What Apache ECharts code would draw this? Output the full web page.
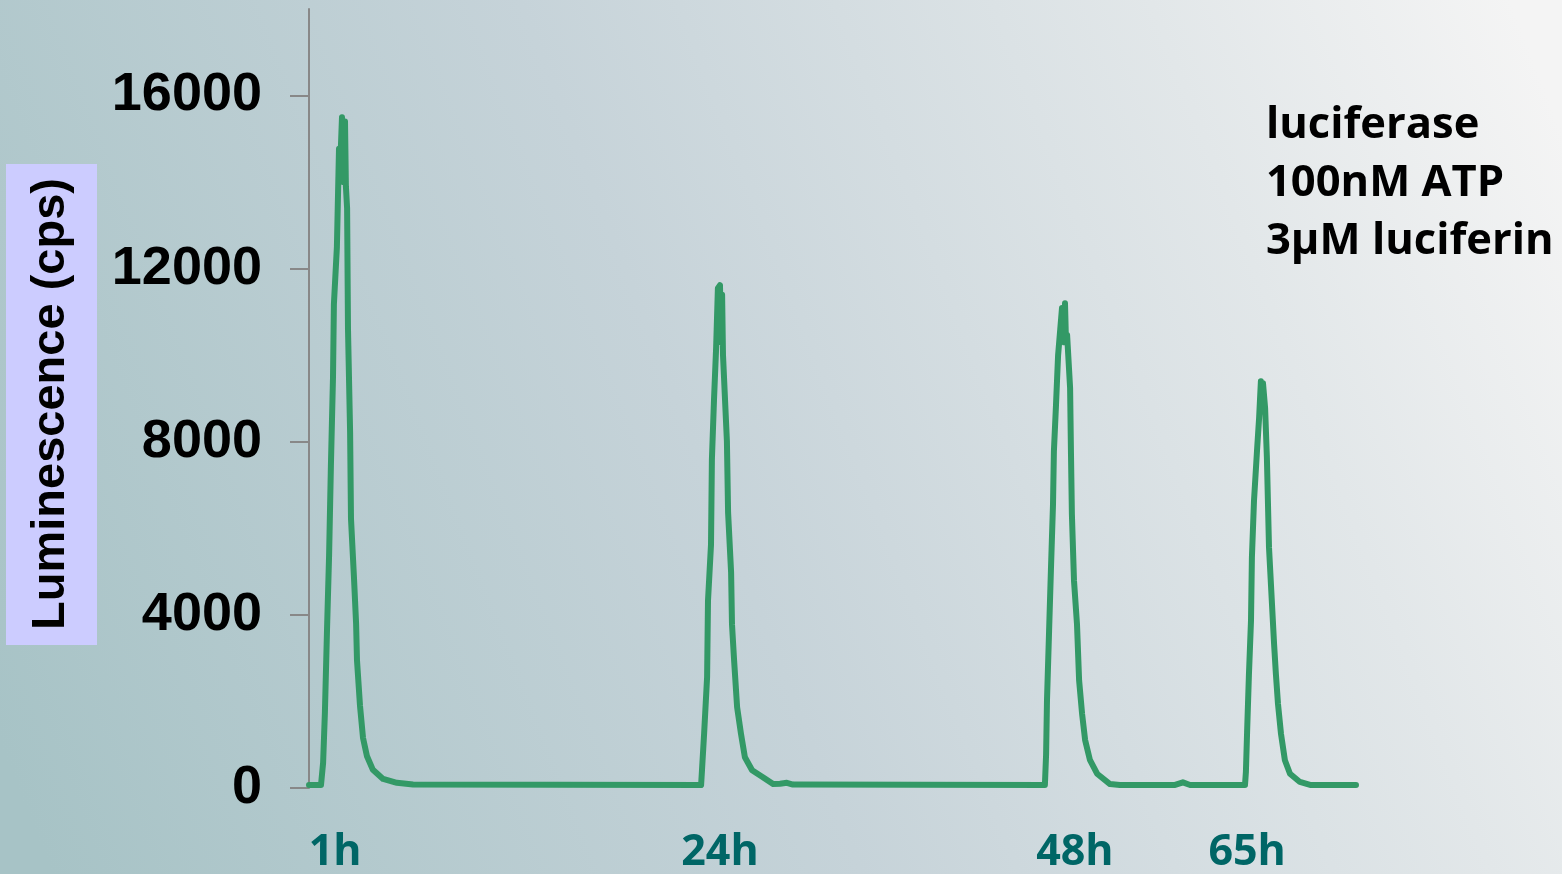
<!DOCTYPE html>
<html>
<head>
<meta charset="utf-8">
<script src="https://cdn.jsdelivr.net/npm/echarts@6/dist/echarts.min.js"></script>
<style>
html,body{margin:0;padding:0;width:1562px;height:874px;overflow:hidden;}
#chart{width:1562px;height:874px;}
</style>
</head>
<body>
<div id="chart"></div>
<script>
// reading index (x) and luminescence in cps (y)
const readings = [
  0, 4, 4.7, 5.3, 6, 6.7, 7.3, 8, 8.3, 9.3, 10, 10.3, 11, 11.5, 12, 12.3, 12.7, 13, 13.7, 14, 15, 15.7, 16, 17, 18, 19.3, 21.3, 24.7, 29.3, 34.7,
  130.7, 131, 131.7, 132.7, 133, 134, 134.3, 135, 135.7, 136.3, 137, 137.3, 137.7, 138, 139.3, 139.7, 140.7, 141, 141.7, 142.7, 144, 145.3, 147.7, 151.3, 154.7, 157, 159.3, 161.3,
  245.3, 245.7, 246, 246.7, 247.3, 248, 248.3, 249, 249.7, 251, 251.7, 252, 252.3, 252.7, 253.7, 254, 254.3, 255, 256, 256.7, 257.7, 258.7, 260.3, 262.7, 267, 270.3,
  288.7, 291.3, 293.7,
  312, 312.3, 312.7, 313.3, 314, 314.3, 315, 316, 316.7, 317.3, 317.7, 318, 318.7, 319.3, 320, 321, 321.7, 322.3, 323, 324, 325.3, 327, 330.3, 333.7, 349
];
const luminescence = [
  70, 70, 580, 1740, 3640, 5380, 7440, 9490, 11180, 12500, 14770, 14200, 15500, 14000, 15400, 13900, 13400, 10600, 8230, 6220, 4850, 3800, 2950, 1900, 1160, 740, 420, 210, 120, 80,
  70, 415, 1250, 2560, 4330, 5620, 7590, 8970, 10160, 11550, 11620, 10300, 11400, 10000, 8020, 6360, 4980, 3780, 2950, 1870, 1250, 710, 410, 250, 90, 100, 120, 80,
  70, 780, 2030, 3640, 5020, 6550, 7780, 8850, 10000, 11090, 10300, 11200, 10400, 10470, 9240, 7700, 6320, 4790, 3780, 2490, 1710, 1110, 650, 330, 90, 70,
  70, 130, 70,
  70, 370, 1290, 2600, 3870, 5320, 6640, 7790, 8550, 9400, 8700, 9350, 8780, 7630, 5560, 4240, 3320, 2630, 1940, 1250, 640, 330, 140, 70, 70
];
const xTickReadings = [8.7, 137, 255.3, 312.7];
const xTickLabels = ['1h', '24h', '48h', '65h'];
const yTickValues = [0, 4000, 8000, 12000, 16000];
const yAxisTitle = 'Luminescence (cps)';
const noteLines = ['luciferase', '100nM ATP', '3\u00b5M luciferin'];

const seriesData = readings.map((r, i) => [r, luminescence[i]]);

const chart = echarts.init(document.getElementById('chart'));
chart.setOption({
  animation: false,
  backgroundColor: new echarts.graphic.LinearGradient(0, 0.85, 1, 0.15, [
    {offset: 0, color: '#a7c3c6'},
    {offset: 0.45, color: '#c6d3d9'},
    {offset: 0.8, color: '#e2e7e9'},
    {offset: 1, color: '#f4f4f4'}
  ]),
  title: {
    text: noteLines.join('\n'),
    left: 1266,
    top: 97,
    padding: 0,
    textStyle: {
      fontFamily: 'Open Sans',
      fontWeight: 'bold',
      fontSize: 43.5,
      lineHeight: 58,
      color: '#000'
    }
  },
  graphic: [{
    type: 'text',
    x: 51.5,
    y: 404.5,
    rotation: Math.PI / 2,
    style: {
      text: yAxisTitle,
      align: 'center',
      verticalAlign: 'middle',
      fontFamily: 'Liberation Sans',
      fontWeight: 'bold',
      fontSize: 47,
      lineHeight: 57,
      fill: '#000',
      backgroundColor: '#ccccff',
      padding: [17, 14, 17, 15]
    }
  }],
  grid: {left: 309, right: 203, top: 9, bottom: 81},
  xAxis: {
    type: 'value',
    min: 0,
    max: 350,
    axisLine: {show: false},
    axisTick: {show: false},
    splitLine: {show: false},
    axisLabel: {
      customValues: xTickReadings,
      formatter: v => {
        const i = xTickReadings.findIndex(t => Math.abs(t - v) < 0.01);
        return i >= 0 ? xTickLabels[i] : '';
      },
      margin: 43,
      fontFamily: 'Open Sans',
      fontWeight: 'bold',
      fontSize: 43,
      color: '#006666'
    }
  },
  yAxis: {
    type: 'value',
    min: 0,
    max: 18000,
    interval: 2000,
    splitLine: {show: false},
    axisLine: {show: true, lineStyle: {color: '#888888', width: 2}},
    axisTick: {show: true, customValues: yTickValues, length: 19, lineStyle: {color: '#888888', width: 2}},
    axisLabel: {
      customValues: yTickValues,
      formatter: v => String(v),
      margin: 47,
      fontFamily: 'Liberation Sans',
      fontWeight: 'bold',
      fontSize: 54,
      color: '#000'
    }
  },
  series: [{
    type: 'line',
    data: seriesData,
    showSymbol: false,
    symbol: 'none',
    lineStyle: {color: '#339966', width: 6, join: 'round', cap: 'round'}
  }]
});
</script>
</body>
</html>
